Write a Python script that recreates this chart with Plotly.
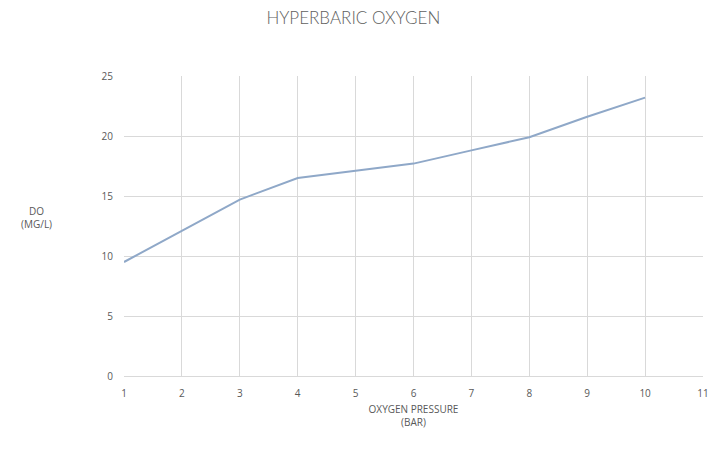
import plotly.graph_objects as go

pressure_bar = [1, 2, 3, 4, 5, 6, 7, 8, 9, 10]
do_mg_l = [9.5, 12.1, 14.7, 16.5, 17.1, 17.7, 18.8, 19.9, 21.6, 23.2]
x_ticks = [1, 2, 3, 4, 5, 6, 7, 8, 9, 10, 11]
y_ticks = [0, 5, 10, 15, 20, 25]

fig = go.Figure()
fig.add_trace(go.Scatter(
    x=pressure_bar, y=do_mg_l, mode="lines",
    line=dict(color="#8fa8c8", width=2), showlegend=False,
))

font_fam = "Open Sans, Lato, sans-serif"
grid = "#d9d9d9"
# the page has an 8px body margin, so the figure is 8px smaller and shifted
fig.update_layout(
    width=712, height=457,
    margin=dict(l=116, r=11, t=68, b=89),
    paper_bgcolor="white", plot_bgcolor="white",
    title=dict(text="HYPERBARIC OXYGEN", x=0.485, xanchor="center", y=0.979, yanchor="middle",
               font=dict(family="Lato, Open Sans, sans-serif", size=17, weight=300, color="#606060")),
    font=dict(family=font_fam, size=10, color="#595959"),
    xaxis=dict(range=[1, 11], tickvals=x_ticks, showgrid=True, gridcolor=grid, gridwidth=1,
               zeroline=False, showline=True, linecolor=grid, ticks="", ticklen=0,
               ticklabelstandoff=8,
               tickfont=dict(size=10, color="#595959"),
               title=dict(text="OXYGEN PRESSURE<br>(BAR)", font=dict(size=10, color="#595959"), standoff=6)),
    yaxis=dict(range=[0, 25], tickvals=y_ticks, showgrid=True, gridcolor=grid, gridwidth=1,
               zeroline=False, showline=False, ticks="", ticklabelstandoff=10,
               tickfont=dict(size=10, color="#595959")),
    annotations=[dict(text="DO<br>(MG/L)", xref="paper", yref="paper",
                      x=-0.151, y=0.527, xanchor="center", yanchor="middle",
                      showarrow=False, font=dict(size=10, color="#595959"))],
)

fig.write_html("out.html")
